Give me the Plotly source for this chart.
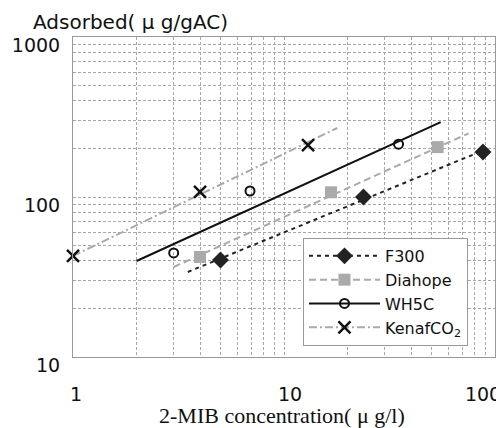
import plotly.graph_objects as go

# ---- data ----
series_names = ["F300", "Diahope", "WH5C", "KenafCO<sub>2</sub>"]

f300_x = [5.0, 23.8, 87.7]
f300_y = [40.4, 100.0, 191.0]
f300_fit_x = [3.5, 93.6]
f300_fit_y = [34.0, 202.0]

diahope_x = [4.0, 16.7, 53.5]
diahope_y = [42.2, 107.0, 205.0]
diahope_fit_x = [3.0, 75.0]
diahope_fit_y = [36.5, 250.0]

wh5c_x = [3.0, 6.9, 34.9]
wh5c_y = [44.7, 109.0, 214.0]
wh5c_fit_x = [2.0, 55.3]
wh5c_fit_y = [39.8, 294.0]

kenaf_x = [1.0, 4.0, 13.0]
kenaf_y = [42.8, 107.5, 211.0]
kenaf_fit_x = [1.0, 17.9]
kenaf_fit_y = [42.8, 270.0]

x_major = [1, 10, 100]
x_major_labels = ["\u00a0" * 5 + "1", "\u00a0" * 6 + "10", "100"]
y_major = [10, 100, 1000]
y_major_labels = ["10", "100", "1000"]

# grid positions (all 1..9 per decade)
x_grid = [m * d for d in (1, 10) for m in range(1, 10)] + [100]
y_grid = [m * d for d in (10, 100) for m in range(1, 10)] + [1000]
x_text = [x_major_labels[x_major.index(v)] if v in x_major else "" for v in x_grid]
y_text = [y_major_labels[y_major.index(v)] if v in y_major else "" for v in y_grid]

styles = [
    dict(line=dict(color="#222222", width=2, dash="4px,4px"),
         marker=dict(symbol="diamond", size=13, color="#222222")),
    dict(line=dict(color="#aaaaaa", width=2, dash="7px,4px"),
         marker=dict(symbol="square", size=12, color="#aaaaaa")),
    dict(line=dict(color="#111111", width=2),
         marker=dict(symbol="circle-open", size=9, color="#111111", line=dict(width=2, color="#111111"))),
    dict(line=dict(color="#aaaaaa", width=2, dash="8px,3px,2px,3px"),
         marker=dict(symbol="x-thin", size=12, color="#111111", line=dict(width=2.5, color="#111111"))),
]

pts = [(f300_x, f300_y), (diahope_x, diahope_y), (wh5c_x, wh5c_y), (kenaf_x, kenaf_y)]
fits = [(f300_fit_x, f300_fit_y), (diahope_fit_x, diahope_fit_y),
        (wh5c_fit_x, wh5c_fit_y), (kenaf_fit_x, kenaf_fit_y)]

fig = go.Figure()
for name, (fx, fy), st in zip(series_names, fits, styles):
    fig.add_trace(go.Scatter(x=fx, y=fy, mode="lines", line=st["line"],
                             showlegend=False, hoverinfo="skip", cliponaxis=False))
for name, (px, py), st in zip(series_names, pts, styles):
    fig.add_trace(go.Scatter(x=px, y=py, mode="markers", marker=st["marker"],
                             name=name, showlegend=False, cliponaxis=False))
for name, st in zip(series_names, styles):
    fig.add_trace(go.Scatter(x=[None], y=[None], mode="lines+markers", name=name,
                             line=st["line"], marker=st["marker"]))

grid_common = dict(type="log", showgrid=True, gridcolor="#a8a8a8", gridwidth=1,
                   griddash="3px,2px", zeroline=False, ticks="", automargin=False,
                   showline=True, linecolor="#999999", linewidth=1, mirror=True,
                   tickfont=dict(family="DejaVu Sans", size=19, color="#111111"))

fig.update_xaxes(range=[0, 2], tickmode="array", tickvals=x_grid, ticktext=x_text,
                 ticklabelstandoff=20, ticklabelshift=-12, ticklabeloverflow="allow",
                 **grid_common)
fig.update_yaxes(range=[1, 3], tickmode="array", tickvals=y_grid, ticktext=y_text,
                 ticklabelstandoff=8, ticklabelshift=8, **grid_common)

# page body has an 8px margin, so the figure is drawn 8px smaller and offset
fig.update_layout(
    width=496, height=420,
    margin=dict(l=65, r=9, t=29, b=71),
    paper_bgcolor="white", plot_bgcolor="white",
    showlegend=True,
    legend=dict(x=0.545, y=0.372, xanchor="left", yanchor="top",
                bgcolor="white", bordercolor="#999999", borderwidth=1,
                font=dict(family="DejaVu Sans", size=16, color="#111111"),
                itemwidth=71, entrywidth=125, tracegroupgap=0),
    annotations=[
        dict(text="Adsorbed( μ g/gAC)", xref="paper", yref="paper",
             x=(130 - 73) / 422, y=(357 - 22) / 320, xanchor="center", yanchor="middle",
             showarrow=False, font=dict(family="DejaVu Sans", size=20, color="#111111")),
        dict(text="2-MIB concentration( μ g/l)", xref="paper", yref="paper",
             x=(282 - 73) / 422, y=(357 - 415) / 320, xanchor="center", yanchor="middle",
             showarrow=False, font=dict(family="Liberation Serif", size=22, color="#111111")),
    ],
)

fig.write_html("out.html")
